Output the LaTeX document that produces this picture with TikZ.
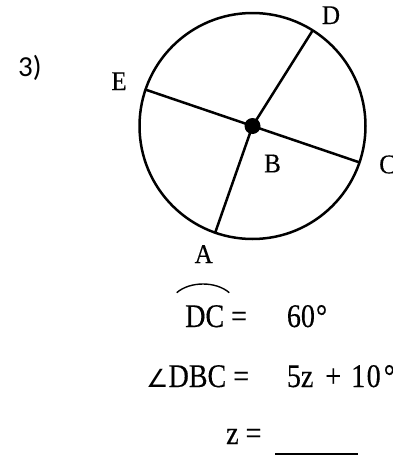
\documentclass[tikz,border=0pt]{standalone}
\usepackage{fontspec}
\setmainfont{Liberation Serif}
\newfontfamily\calibfont{Carlito}
\newfontfamily\eqfont{Liberation Serif}[FakeStretch=0.85,FakeBold=0.3]
\newfontfamily\lblfont{Liberation Serif}[FakeStretch=0.93,FakeBold=0.3]
\newfontfamily\angfont{DejaVu Sans}
\begin{document}
\begin{tikzpicture}[x=1pt,y=-1pt,
  geom/.style={line width=2.5pt},
  lbl/.style={inner sep=0pt,font=\lblfont\fontsize{27}{32}\selectfont},
  eqtext/.style={inner sep=0pt,font=\eqfont\fontsize{33}{38}\selectfont,anchor=base west}]
\useasboundingbox (0,0) rectangle (393,466);
% circle geometry
\coordinate (B) at (252.5,126);
\coordinate (D) at (312.7,30.4);
\coordinate (C) at (359.5,162.4);
\coordinate (E) at (145.5,89.6);
\coordinate (A) at (215.2,232.6);
\draw[geom] (B) circle (113pt);
\draw[geom] (E) -- (C);
\draw[geom] (B) -- (D);
\draw[geom] (B) -- (A);
\fill (B) circle (8pt);
% labels
\node[lbl,anchor=base] (lD) at (331,24) {D};
\node[lbl,anchor=base] (lE) at (119,90) {E};
\node[lbl,anchor=base] (lB) at (272.5,172.3) {B};
\node[lbl,anchor=base] (lA) at (203.7,263) {A};
\node[lbl,anchor=base west] (lC) at (379,173.3) {C};
\node[inner sep=0pt,anchor=base west,font=\calibfont\fontsize{29}{34}\selectfont] (num) at (18,76) {3)};
% equations
\node[eqtext] (r1a) at (185,327) {DC =};
\draw[line width=1.4pt] (176.7,292.7) .. controls (190,281.1) and (216,281.1) .. (229.3,292.7);
\node[eqtext] (r1b) at (286.7,327) {60\hspace{1pt}°};
\node[eqtext] (r2a) at (146,387) {{\angfont\fontsize{25}{30}\selectfont ∠}DBC =};
\node[eqtext] (r2b) at (286.7,387) {5z\hspace{12pt}+\hspace{10pt}1\hspace{1.5pt}0\hspace{3pt}°};
\node[eqtext] (r3a) at (226,444) {z =};
\coordinate (u1) at (275,454.3);
\coordinate (u2) at (357.7,454.3);
\draw[line width=2pt] (u1) -- (u2);
\end{tikzpicture}
\end{document}
